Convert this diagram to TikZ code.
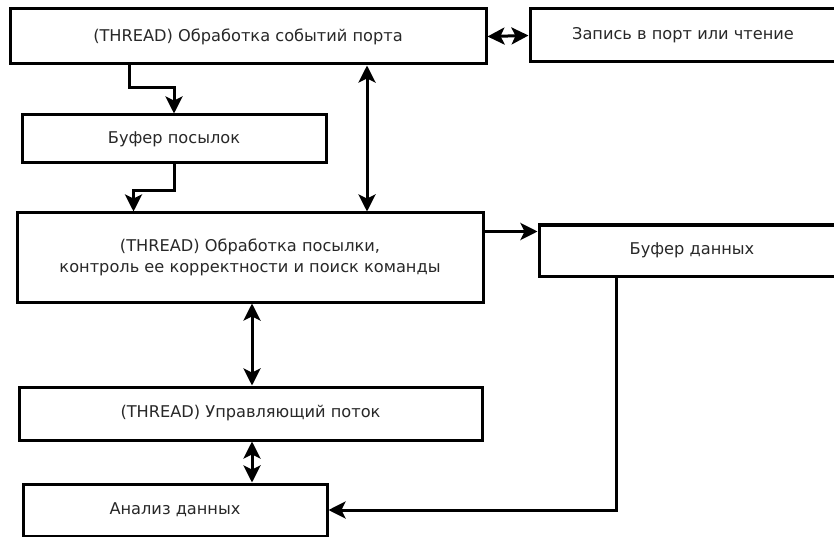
\documentclass[tikz,border=0pt]{standalone}
\usepackage{fontspec}
\setmainfont{DejaVu Sans}
\usetikzlibrary{arrows.meta}
\definecolor{txt}{RGB}{40,40,40}
\tikzset{
  box/.style={draw=black, line width=3pt, fill=white, inner sep=0pt, text=txt,
    font=\fontsize{16.2}{21}\selectfont, align=center},
  tip/.tip={Stealth[length=17pt,width=17pt,inset=4pt]},
  arr/.style={line width=3pt, -tip},
  darr/.style={line width=3pt, tip-tip}
}
\begin{document}
\begin{tikzpicture}[x=1pt,y=-1pt]
\useasboundingbox (0,0) rectangle (834,537);
\fill[white] (0,0) rectangle (834,537);
\clip (0,0) rectangle (834,537);
\node[box, minimum width=476pt, minimum height=55pt] (b1) at (248,36.5) {(THREAD) Обработка событий порта};
\node[box, minimum width=306pt, minimum height=53pt] (b2) at (683,35.5) {Запись в порт или чтение};
\node[box, minimum width=304pt, minimum height=48pt] (b3) at (174,139) {Буфер посылок};
\node[box, minimum width=466pt, minimum height=89pt] (b4) at (250,257.5) {(THREAD) Обработка посылки,\\контроль ее корректности и поиск команды};
\node[box, minimum width=306pt, minimum height=51pt] (b5) at (692,250.5) {Буфер данных};
\node[box, minimum width=463pt, minimum height=53pt] (b6) at (250.5,413.5) {(THREAD) Управляющий поток};
\node[box, minimum width=304pt, minimum height=52pt] (b7) at (175,510) {Анализ данных};
\coordinate (c3) at (367,0);
\coordinate (c7) at (252,0);
\coordinate (c6) at (616,0);
\draw[arr] ([xshift=121pt]b1.south west) -- ++(0,22) -| (b3.north);
\draw[arr] (b3.south) -- ++(0,26) -| ([xshift=118pt]b4.north west);
\draw[darr] (b1.south -| c3) -- (b4.north -| c3);
\draw[darr] (b1.east) -- (b2.west);
\draw[arr] ([yshift=-20pt]b4.north east) -- ([yshift=-20pt]b4.north east -| b5.west);
\draw[arr] (b5.south -| c6) |- (b7.east);
\draw[darr] (b4.south -| c7) -- (b6.north -| c7);
\draw[darr] (b6.south -| c7) -- (b7.north -| c7);
\end{tikzpicture}
\end{document}
